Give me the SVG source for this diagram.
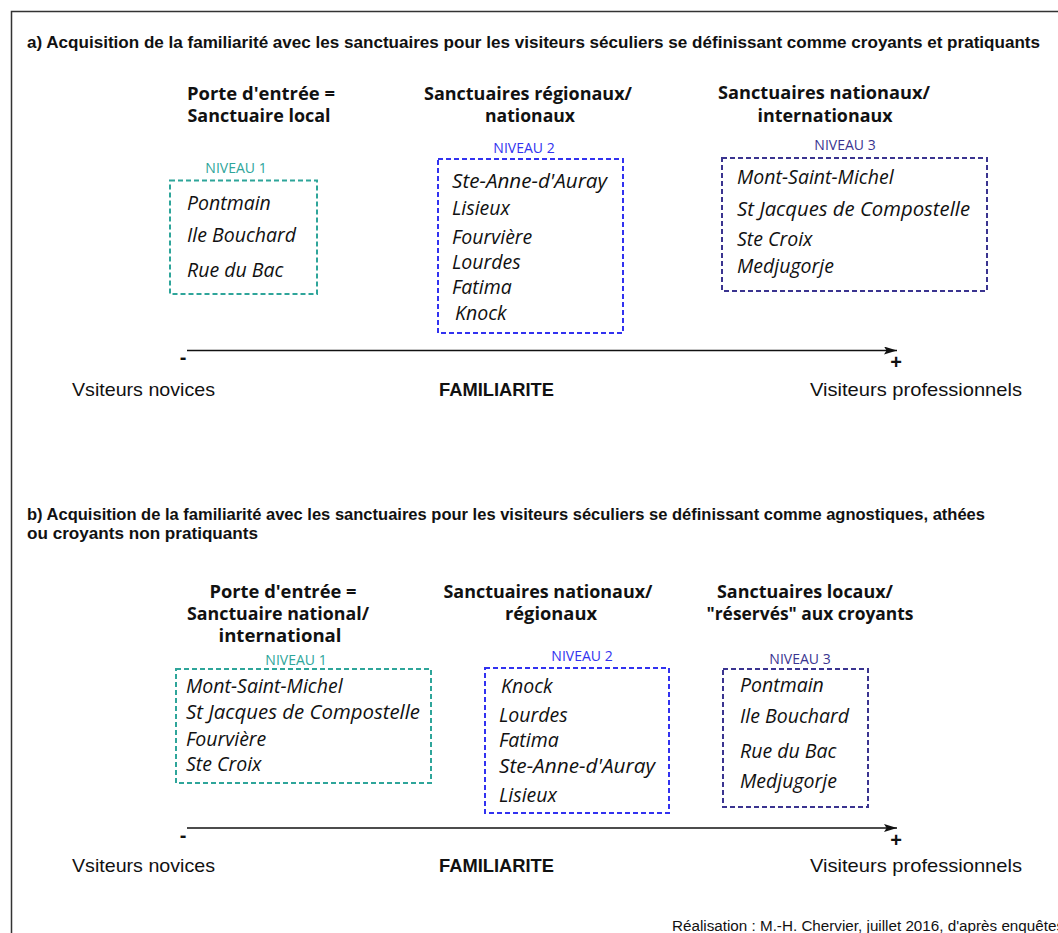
<svg xmlns="http://www.w3.org/2000/svg" width="1058" height="933" viewBox="0 0 1058 933">
<style>
.cal{font-family:"Liberation Sans",Arial,sans-serif;fill:#111}
.title{font-size:16px;font-weight:bold}
.axis{font-size:18.5px}
.head{font-family:"Open Sans","Noto Sans",sans-serif;font-weight:bold;font-size:17.5px;fill:#111;text-anchor:middle}
.niv{font-family:"Open Sans","Noto Sans",sans-serif;font-size:14px;text-anchor:middle}
.name{font-family:"Open Sans","Noto Sans",sans-serif;font-style:italic;font-size:19.5px;fill:#111}
.box{fill:none;stroke-width:2;stroke-dasharray:5 3}
.teal{stroke:#2ea59a}.tealt{fill:#2ea59a}
.blue{stroke:#3232f0}.bluet{fill:#3232f0}
.navy{stroke:#3a3490}.navyt{fill:#3a3490}
.ax{stroke:#111;stroke-width:1.6;fill:none}
.sign{font-family:"Liberation Sans",Arial,sans-serif;font-size:20px;font-weight:bold;fill:#111;text-anchor:middle}
</style>
<defs>
<marker id="arr" viewBox="0 0 10 10" refX="10" refY="5" markerWidth="13" markerHeight="8" markerUnits="userSpaceOnUse" orient="auto" preserveAspectRatio="none">
<path d="M0,0 L10,5 L0,10 L2,5 z" fill="#111"/>
</marker>
</defs>
<rect width="1058" height="933" fill="#fff"/>
<path d="M11.5,945 V11.5 H1070" fill="none" stroke="#333" stroke-width="1.5"/>

<text class="cal title" x="27" y="48" textLength="1013" lengthAdjust="spacingAndGlyphs">a) Acquisition de la familiarité avec les sanctuaires pour les visiteurs séculiers se définissant comme croyants et pratiquants</text>

<g id="a-head1"><text class="head" x="261" y="100" textLength="148" lengthAdjust="spacingAndGlyphs">Porte d'entrée =</text><text class="head" x="259" y="122" textLength="143" lengthAdjust="spacingAndGlyphs">Sanctuaire local</text></g>
<g id="a-head2"><text class="head" x="528" y="100" textLength="208" lengthAdjust="spacingAndGlyphs">Sanctuaires régionaux/</text><text class="head" x="530" y="122" textLength="90" lengthAdjust="spacingAndGlyphs">nationaux</text></g>
<g id="a-head3"><text class="head" x="824" y="99" textLength="212" lengthAdjust="spacingAndGlyphs">Sanctuaires nationaux/</text><text class="head" x="825" y="122" textLength="135" lengthAdjust="spacingAndGlyphs">internationaux</text></g>

<g id="a-niveau1">
<text class="niv tealt" x="236" y="173">NIVEAU 1</text>
<rect class="box teal" x="170" y="180.5" width="147" height="113.5"/>
<text class="name" x="187" y="210">Pontmain</text>
<text class="name" x="187" y="242">Ile Bouchard</text>
<text class="name" x="187" y="277">Rue du Bac</text>
</g>
<g id="a-niveau2">
<text class="niv bluet" x="524" y="153">NIVEAU 2</text>
<rect class="box blue" x="438" y="159" width="185" height="174"/>
<text class="name" x="452" y="188" textLength="155" lengthAdjust="spacingAndGlyphs">Ste-Anne-d'Auray</text>
<text class="name" x="452" y="215">Lisieux</text>
<text class="name" x="452" y="244">Fourvière</text>
<text class="name" x="452" y="269">Lourdes</text>
<text class="name" x="452" y="294">Fatima</text>
<text class="name" x="455" y="320">Knock</text>
</g>
<g id="a-niveau3">
<text class="niv navyt" x="845" y="150">NIVEAU 3</text>
<rect class="box navy" x="722" y="158" width="265" height="133"/>
<text class="name" x="737" y="184">Mont-Saint-Michel</text>
<text class="name" x="737" y="216" textLength="233" lengthAdjust="spacingAndGlyphs">St Jacques de Compostelle</text>
<text class="name" x="737" y="246">Ste Croix</text>
<text class="name" x="737" y="273">Medjugorje</text>
</g>

<g id="connectors">
<line class="ax" x1="187" y1="350.5" x2="897" y2="350.5" marker-end="url(#arr)"/>
<line class="ax" x1="187" y1="828" x2="897" y2="828" marker-end="url(#arr)"/>
</g>

<g id="a-axis">
<text class="sign" x="183" y="364">-</text>
<text class="sign" x="896" y="369">+</text>
<text class="cal axis" x="72" y="396" textLength="143" lengthAdjust="spacingAndGlyphs">Vsiteurs novices</text>
<text class="cal axis" x="439" y="396" font-weight="bold" textLength="115" lengthAdjust="spacingAndGlyphs">FAMILIARITE</text>
<text class="cal axis" x="810" y="396" textLength="212" lengthAdjust="spacingAndGlyphs">Visiteurs professionnels</text>
</g>

<text class="cal title" x="27" y="520" textLength="958" lengthAdjust="spacingAndGlyphs">b) Acquisition de la familiarité avec les sanctuaires pour les visiteurs séculiers se définissant comme agnostiques, athées</text>
<text class="cal title" x="27" y="539" textLength="231" lengthAdjust="spacingAndGlyphs">ou croyants non pratiquants</text>

<g id="b-head1"><text class="head" x="283" y="598" textLength="147" lengthAdjust="spacingAndGlyphs">Porte d'entrée =</text><text class="head" x="278" y="620" textLength="182" lengthAdjust="spacingAndGlyphs">Sanctuaire national/</text><text class="head" x="280" y="642" textLength="123" lengthAdjust="spacingAndGlyphs">international</text></g>
<g id="b-head2"><text class="head" x="548" y="598" textLength="209" lengthAdjust="spacingAndGlyphs">Sanctuaires nationaux/</text><text class="head" x="551" y="620" textLength="92" lengthAdjust="spacingAndGlyphs">régionaux</text></g>
<g id="b-head3"><text class="head" x="805" y="598" textLength="176" lengthAdjust="spacingAndGlyphs">Sanctuaires locaux/</text><text class="head" x="810" y="620" textLength="207" lengthAdjust="spacingAndGlyphs">"réservés" aux croyants</text></g>

<g id="b-niveau1">
<text class="niv tealt" x="296" y="665">NIVEAU 1</text>
<rect class="box teal" x="176" y="669" width="255" height="114"/>
<text class="name" x="186" y="693">Mont-Saint-Michel</text>
<text class="name" x="186" y="719" textLength="234" lengthAdjust="spacingAndGlyphs">St Jacques de Compostelle</text>
<text class="name" x="186" y="746">Fourvière</text>
<text class="name" x="186" y="771">Ste Croix</text>
</g>
<g id="b-niveau2">
<text class="niv bluet" x="582" y="661">NIVEAU 2</text>
<rect class="box blue" x="485" y="668" width="184" height="145"/>
<text class="name" x="501" y="693">Knock</text>
<text class="name" x="499" y="722">Lourdes</text>
<text class="name" x="499" y="747">Fatima</text>
<text class="name" x="499" y="773" textLength="156" lengthAdjust="spacingAndGlyphs">Ste-Anne-d'Auray</text>
<text class="name" x="499" y="802">Lisieux</text>
</g>
<g id="b-niveau3">
<text class="niv navyt" x="800" y="664">NIVEAU 3</text>
<rect class="box navy" x="723" y="669" width="145" height="138"/>
<text class="name" x="740" y="692">Pontmain</text>
<text class="name" x="740" y="723">Ile Bouchard</text>
<text class="name" x="740" y="758">Rue du Bac</text>
<text class="name" x="740" y="788">Medjugorje</text>
</g>

<g id="b-axis">
<text class="sign" x="183" y="842">-</text>
<text class="sign" x="896" y="847">+</text>
<text class="cal axis" x="72" y="872" textLength="143" lengthAdjust="spacingAndGlyphs">Vsiteurs novices</text>
<text class="cal axis" x="439" y="872" font-weight="bold" textLength="115" lengthAdjust="spacingAndGlyphs">FAMILIARITE</text>
<text class="cal axis" x="810" y="872" textLength="212" lengthAdjust="spacingAndGlyphs">Visiteurs professionnels</text>
</g>

<text class="cal" x="672" y="931" font-size="14" textLength="392" lengthAdjust="spacingAndGlyphs">Réalisation : M.-H. Chervier, juillet 2016, d'après enquêtes</text>
</svg>
